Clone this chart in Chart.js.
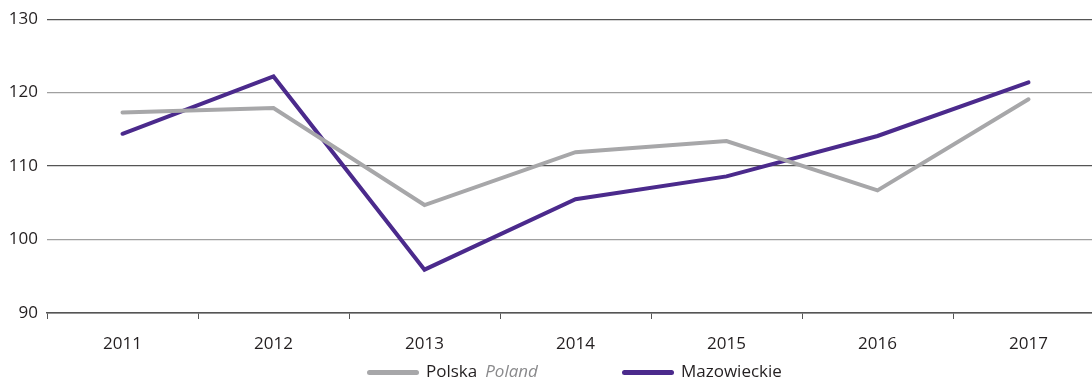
<!DOCTYPE html>
<html>
<head>
<meta charset="utf-8">
<script src="https://cdn.jsdelivr.net/npm/chart.js@4"></script>
<style>
  html, body { margin: 0; padding: 0; background: #fff; overflow: hidden; }
  #wrap { position: relative; width: 1104px; height: 379px; }
  #legend {
    position: absolute; top: 359px; left: 0; width: 1092px;
    font-family: "Open Sans", sans-serif; font-size: 17px; color: #231f20;
  }
  .item { position: absolute; top: 0; height: 24px; line-height: 24px; white-space: nowrap; }
  .swatch { display: inline-block; width: 52px; height: 5px; border-radius: 3px; vertical-align: middle; margin-right: 7px; }
  .en { font-style: italic; color: #8a8a8c; margin-left: 8px; }
</style>
</head>
<body>
<div id="wrap">
  <canvas id="wykres"></canvas>
  <div id="legend">
    <div class="item" style="left:367px"><span class="swatch" style="background:#a7a7a9"></span>Polska<span class="en">Poland</span></div>
    <div class="item" style="left:622px"><span class="swatch" style="background:#4b2a8c"></span>Mazowieckie</div>
  </div>
</div>
<script>
// Dane
const lata = ["2011", "2012", "2013", "2014", "2015", "2016", "2017"];
const polska = [117.3, 117.9, 104.7, 111.9, 113.4, 106.7, 119.1];
const mazowieckie = [114.4, 122.2, 95.9, 105.5, 108.6, 114.1, 121.4];
const osY = [90, 100, 110, 120, 130];

const config = {
  type: "line",
  data: {
    labels: lata,
    datasets: [
      { label: "Polska", data: polska, borderColor: "#a7a7a9", borderWidth: 4, pointRadius: 0, tension: 0, borderCapStyle: "round" },
      { label: "Mazowieckie", data: mazowieckie, borderColor: "#4b2a8c", borderWidth: 4, pointRadius: 0, tension: 0, borderCapStyle: "round" }
    ]
  },
  options: {
    responsive: true,
    maintainAspectRatio: false,
    animation: false,
    layout: { padding: { top: 11, bottom: 25, left: 0, right: 0 } },
    plugins: { legend: { display: false }, tooltip: { enabled: false } },
    scales: {
      x: {
        offset: true,
        grid: { offset: true, drawOnChartArea: false, drawTicks: true, tickLength: 6, color: "#555" },
        border: { display: true, color: "#555", width: 1.5 },
        ticks: { color: "#231f20", font: { family: "Open Sans", size: 17 }, padding: 15 },
        afterFit: function (s) { s.height = 41; }
      },
      y: {
        min: 90,
        max: 130,
        afterBuildTicks: function (s) { s.ticks = osY.map(v => ({ value: v })); },
        grid: {
          drawTicks: false,
          color: function (ctx) { return (ctx.tick && (ctx.tick.value === 120 || ctx.tick.value === 100)) ? "#a0a0a0" : "#555"; },
          lineWidth: 1.3
        },
        border: { display: false },
        ticks: { color: "#231f20", font: { family: "Open Sans", size: 17 }, padding: 9 },
        afterFit: function (s) { s.width = 47; }
      }
    }
  }
};

new Chart(document.getElementById("wykres").getContext("2d"), config);
</script>
</body>
</html>
